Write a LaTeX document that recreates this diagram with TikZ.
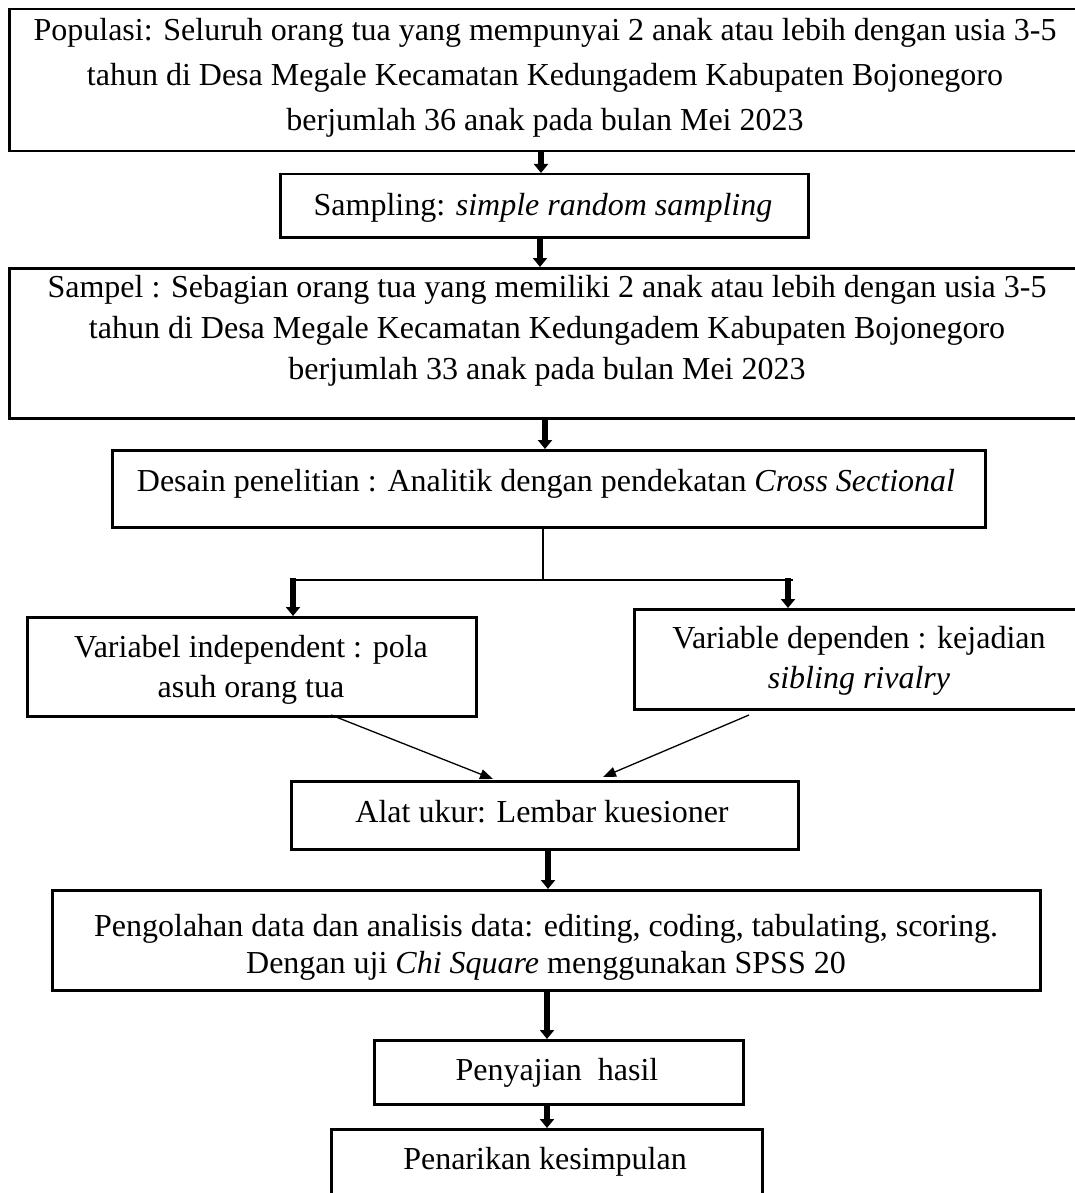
\documentclass[tikz,border=0pt]{standalone}
\usepackage{fontspec}
\setmainfont{Liberation Serif}
\usetikzlibrary{arrows.meta}
\begin{document}
\begin{tikzpicture}[x=1pt,y=-1pt,
  box/.style={draw, line width=2.5pt, inner sep=0pt, anchor=north west},
  txt/.style={font=\fontsize{32}{42}\selectfont, align=center, anchor=base, inner sep=0pt},
  bigarrow/.style={line width=5.5pt, -{Triangle[width=14pt,length=9pt]}},
  thinarrow/.style={line width=1.3pt, -{Triangle[width=10pt,length=13pt]}},
  thinline/.style={line width=1.5pt}]
\useasboundingbox (0,0) rectangle (1075,1193);
\clip (0,0) rectangle (1075,1193);
% boxes
\node[box, minimum width=1074pt, minimum height=142pt] (b1) at (8,8) {};
\node[box, minimum width=528pt, minimum height=63pt] (b2) at (279,173) {};
\node[box, minimum width=1078pt, minimum height=150pt] (b3) at (8,267) {};
\node[box, minimum width=873pt, minimum height=77pt] (b4) at (111,449) {};
\node[box, minimum width=449pt, minimum height=99pt] (b5) at (26,616) {};
\node[box, minimum width=452pt, minimum height=100pt] (b6) at (633,608) {};
\node[box, minimum width=507pt, minimum height=68pt] (b7) at (290,780) {};
\node[box, minimum width=988pt, minimum height=100pt] (b8) at (51,889) {};
\node[box, minimum width=369pt, minimum height=64pt] (b9) at (373,1039) {};
\node[box, minimum width=431pt, minimum height=80pt] (b10) at (330,1128) {};
% texts (anchor base = baseline of the last line)
\node[txt, font=\fontsize{32}{45}\selectfont] (t1) at (545,131) {Populasi: Seluruh orang tua yang mempunyai 2 anak atau lebih dengan usia 3-5\\tahun di Desa Megale Kecamatan Kedungadem Kabupaten Bojonegoro\\berjumlah 36 anak pada bulan Mei 2023};
\node[txt] (t2) at (543,215) {Sampling: \textit{simple random sampling}};
\node[txt, font=\fontsize{32}{41}\selectfont] (t3) at (547,379) {Sampel : Sebagian orang tua yang memiliki 2 anak atau lebih dengan usia 3-5\\tahun di Desa Megale Kecamatan Kedungadem Kabupaten Bojonegoro\\berjumlah 33 anak pada bulan Mei 2023};
\node[txt] (t4) at (546,491) {Desain penelitian : Analitik dengan pendekatan \textit{Cross Sectional}};
\node[txt, font=\fontsize{32}{40}\selectfont] (t5) at (251,697) {Variabel independent : pola\\asuh orang tua};
\node[txt, font=\fontsize{32}{40}\selectfont] (t6) at (859,688) {Variable dependen : kejadian\\\textit{sibling rivalry}};
\node[txt] (t7) at (542,822) {Alat ukur: Lembar kuesioner};
\node[txt, font=\fontsize{32}{37}\selectfont] (t8) at (546,973) {Pengolahan data dan analisis data: editing, coding, tabulating, scoring.\\Dengan uji \textit{Chi Square} menggunakan SPSS 20};
\node[txt] (t9) at (557,1080) {Penyajian\ \ hasil};
\node[txt] (t10) at (545,1169) {Penarikan kesimpulan};
% connectors
\coordinate (x1) at (541,0);
\coordinate (x2) at (540,0);
\coordinate (x3) at (545,0);
\coordinate (split) at (543,580);
\coordinate (sl) at (293,580);
\coordinate (sr) at (788,580);
\coordinate (se) at (793,580);
\coordinate (x6) at (548,0);
\coordinate (x7) at (547,0);
\draw[bigarrow] (b1.south -| x1) -- (b2.north -| x1);
\draw[bigarrow] (b2.south -| x2) -- (b3.north -| x2);
\draw[bigarrow] (b3.south -| x3) -- (b4.north -| x3);
\draw[thinline] (b4.south -| split) -- (split);
\draw[thinline] (sl) -- (se);
\draw[bigarrow] ([yshift=2pt]sl) -- (b5.north -| sl);
\draw[bigarrow] ([yshift=2pt]sr) -- (b6.north -| sr);
\coordinate (la) at (331,715);
\coordinate (lb) at (493,779);
\coordinate (ra) at (749,715);
\coordinate (rb) at (603,777);
\draw[thinarrow] (la) -- (lb);
\draw[thinarrow] (ra) -- (rb);
\draw[bigarrow] (b7.south -| x6) -- (b8.north -| x6);
\draw[bigarrow] (b8.south -| x7) -- (b9.north -| x7);
\draw[bigarrow] (b9.south -| x7) -- (b10.north -| x7);
\end{tikzpicture}
\end{document}
